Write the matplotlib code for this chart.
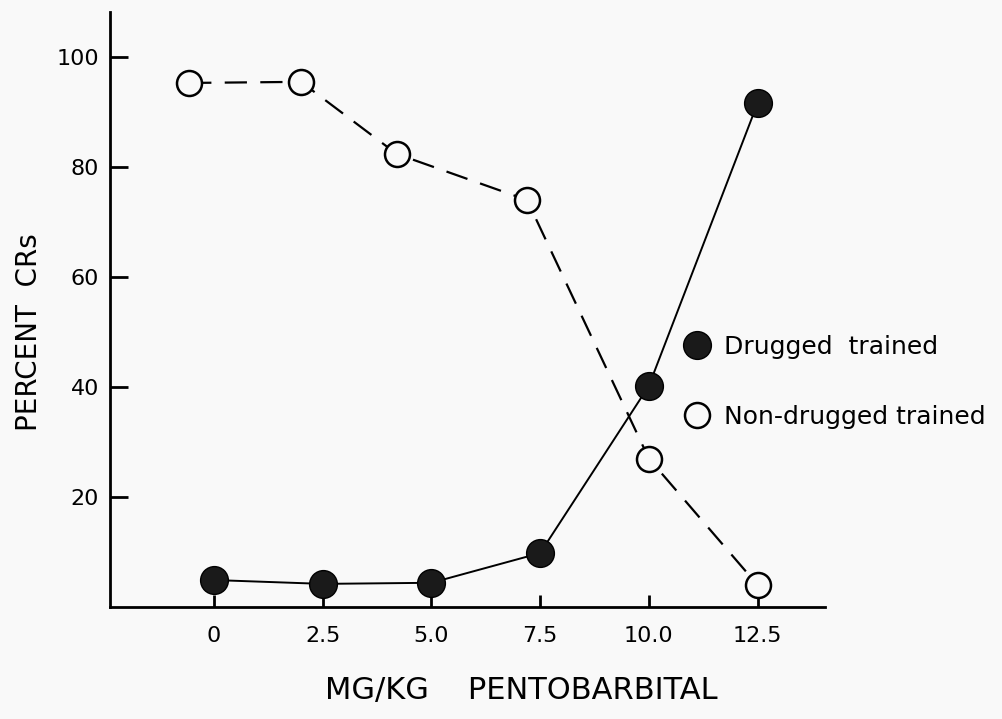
import matplotlib
matplotlib.use("Agg")
import matplotlib.pyplot as plt
from matplotlib.lines import Line2D

# dose (mg/kg) and percent CRs
dose_drugged = [0, 2.5, 5.0, 7.5, 10.0, 12.5]
pct_drugged = [4.9, 4.2, 4.4, 9.8, 40.2, 91.6]
# open circles are drawn slightly off the ticks in the original
dose_nondrugged = [-0.57, 2.0, 4.2, 7.2, 10.0, 12.5]
pct_nondrugged = [95.3, 95.5, 82.4, 74.0, 27.0, 4.0]

xticks = [0, 2.5, 5.0, 7.5, 10.0, 12.5]
xticklabels = ["0", "2.5", "5.0", "7.5", "10.0", "12.5"]
yticks = [20, 40, 60, 80, 100]

bg = "#f9f9f9"
fig = plt.figure(figsize=(10.03, 7.19), dpi=100, facecolor=bg)
ax = fig.add_axes([0.1097, 0.1558, 0.7128, 0.8275], facecolor=bg)

ax.plot(dose_nondrugged, pct_nondrugged, color="black", lw=1.6, dashes=(10, 6),
        marker="o", markersize=18, markerfacecolor=bg, markeredgecolor="black",
        markeredgewidth=1.8, zorder=2)
ax.plot(dose_drugged, pct_drugged, color="black", lw=1.4,
        marker="o", markersize=20, markerfacecolor="#1a1a1a", markeredgecolor="black",
        markeredgewidth=1.0, zorder=3)

ax.set_xlim(-2.39, 14.05)
ax.set_ylim(0, 108.2)
ax.set_xticks(xticks)
ax.set_xticklabels(xticklabels)
ax.set_yticks(yticks)
ax.set_yticklabels([str(v) for v in yticks])

for s in ["top", "right"]:
    ax.spines[s].set_visible(False)
for s in ["left", "bottom"]:
    ax.spines[s].set_linewidth(2.0)

ax.tick_params(axis="y", direction="in", length=13, width=2, pad=8, labelsize=16)
ax.tick_params(axis="x", direction="in", length=9, width=2, pad=14, labelsize=16)

fig.text(29 / 1003, 1 - 332 / 719, "PERCENT  CRs", rotation=90, ha="center", va="center",
         fontsize=20)
fig.text(521 / 1003, 1 - 690 / 719, "MG/KG    PENTOBARBITAL", ha="center", va="center",
         fontsize=22)

handles = [
    Line2D([], [], ls="none", marker="o", markersize=20, markerfacecolor="#1a1a1a",
           markeredgecolor="black", label="Drugged  trained"),
    Line2D([], [], ls="none", marker="o", markersize=18, markerfacecolor=bg,
           markeredgecolor="black", markeredgewidth=1.8, label="Non-drugged trained"),
]
leg = ax.legend(handles=handles, loc="center left", bbox_to_anchor=(675 / 1003, 1 - 382 / 719),
                bbox_transform=fig.transFigure, frameon=False, fontsize=18,
                handlelength=0.8, handletextpad=0.68, labelspacing=1.85, borderpad=0)

fig.savefig("out.png", dpi=100, facecolor=bg)
